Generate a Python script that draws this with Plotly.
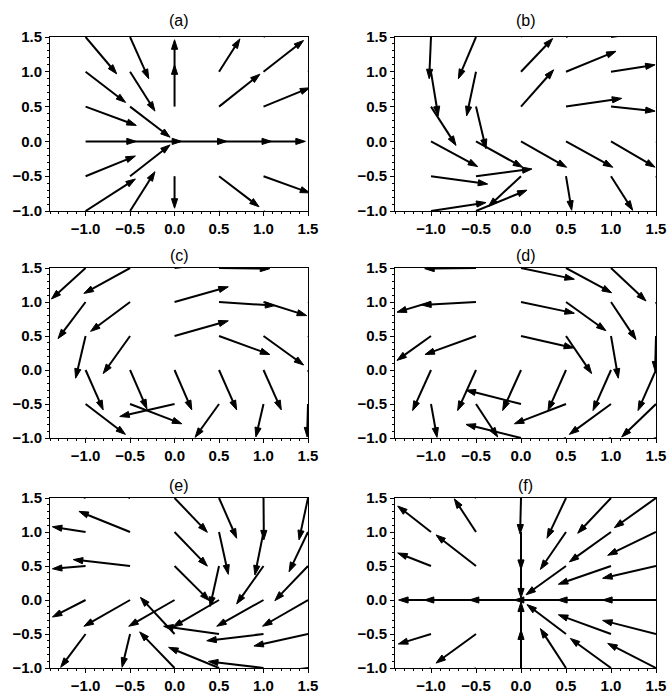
import plotly.graph_objects as go

# arrow tails sit on this grid; every U/V table is listed row by row, top (y=1.5) to bottom (y=-1)
grid_x = [-1.0, -0.5, 0.0, 0.5, 1.0, 1.5]
grid_y = [1.5, 1.0, 0.5, 0.0, -0.5, -1.0]

panel_names = ["(a)", "(b)", "(c)", "(d)", "(e)", "(f)"]
tick_vals = [-1.0, -0.5, 0.0, 0.5, 1.0, 1.5]

u_a = [[0.35, 0.21, 0.0, 0.2, 0.42, 0.5],
       [0.45, 0.28, 0.0, 0.235, 0.45, 0.5],
       [0.57, 0.45, 0.0, 0.46, 0.52, 0.55],
       [0.57, 0.58, 0.59, 0.59, 0.47, 0.6],
       [0.56, 0.45, 0.0, 0.45, 0.52, 0.55],
       [0.56, 0.28, 0.0, 0.24, 0.42, 0.5]]
v_a = [[-0.53, -0.6, 0.6, 0.57, 0.42, 0.5],
       [-0.44, -0.565, 0.46, 0.473, 0.45, 0.33],
       [-0.27, -0.44, 0.6, 0.466, 0.27, 0.18],
       [0.0, 0.0, 0.0, 0.0, 0.0, 0.0],
       [0.29, 0.45, -0.46, -0.44, -0.24, -0.18],
       [0.46, 0.565, -0.6, -0.57, -0.42, -0.33]]

u_b = [[-0.02, -0.196, 0.3, 0.5, 0.55, 0.55],
       [0.08, -0.104, 0.352, 0.556, 0.49, 0.5],
       [0.278, 0.111, 0.363, 0.619, 0.49, 0.5],
       [0.519, 0.519, 0.507, 0.52, 0.49, 0.5],
       [0.63, 0.622, -0.363, 0.063, 0.241, 0.3],
       [0.611, 0.567, -0.3, 0.1, 0.2, 0.3]]
v_b = [[-0.6, -0.6, 0.5, 0.3, 0.1, -0.05],
       [-0.633, -0.633, 0.478, 0.295, 0.1, 0.0],
       [-0.558, -0.606, 0.529, 0.118, -0.065, -0.2],
       [-0.362, -0.372, -0.372, -0.372, -0.37, -0.37],
       [-0.113, 0.104, -0.437, -0.49, -0.49, -0.5],
       [0.121, 0.3, -0.5, -0.5, -0.5, -0.5]]

u_c = [[-0.384, -0.519, 0.6, 0.57, 0.5, 0.3],
       [-0.31, -0.444, 0.604, 0.627, 0.485, 0.5],
       [-0.112, -0.302, 0.604, 0.571, 0.451, 0.4],
       [0.198, 0.19, 0.194, 0.198, 0.2, 0.2],
       [0.448, 0.582, -0.616, -0.269, -0.086, -0.01],
       [0.3, 0.4, 0.2, 0.0, 0.0, 0.0]]
v_c = [[-0.456, -0.374, 0.1, -0.01, 0.1, 0.5],
       [-0.539, -0.432, 0.223, -0.053, -0.2, -0.3],
       [-0.621, -0.553, 0.223, -0.272, -0.427, -0.4],
       [-0.587, -0.573, -0.587, -0.587, -0.587, -0.587],
       [-0.447, -0.291, -0.184, -0.49, -0.485, -0.485],
       [-0.5, -0.5, -0.6, -0.6, -0.6, -0.6]]

u_d = [[-0.4, -0.57, 0.593, 0.507, 0.389, 0.3],
       [-0.378, -0.604, 0.593, 0.444, 0.278, 0.2],
       [-0.378, -0.567, 0.585, 0.285, 0.081, -0.01],
       [-0.204, -0.204, -0.204, -0.2, -0.2, -0.2],
       [0.067, 0.241, -0.611, -0.574, -0.463, -0.381],
       [0.1, 0.1, -0.611, -0.6, -0.6, -0.6]]
v_d = [[0.2, -0.01, -0.165, -0.364, -0.485, -0.5],
       [-0.15, -0.044, -0.165, -0.422, -0.553, -0.6],
       [-0.359, -0.272, -0.175, -0.553, -0.621, -0.515],
       [-0.597, -0.597, -0.597, -0.597, -0.597, -0.597],
       [-0.49, -0.485, 0.204, -0.291, -0.447, -0.485],
       [-0.5, -0.5, 0.2, -0.3, -0.3, -0.3]]

u_e = [[-0.5, -0.5, 0.369, 0.198, 0.004, -0.101],
       [-0.373, -0.575, 0.369, 0.104, -0.097, -0.213],
       [-0.373, -0.638, 0.392, -0.101, -0.302, -0.373],
       [-0.373, -0.519, -0.515, -0.519, -0.526, -0.511],
       [-0.28, -0.09, -0.384, -0.623, -0.638, -0.608],
       [-0.2, -0.2, -0.392, -0.567, -0.619, -0.6]]
v_e = [[0.3, 0.3, -0.505, -0.592, -0.616, -0.616],
       [0.077, 0.304, -0.502, -0.623, -0.633, -0.585],
       [-0.041, 0.094, -0.51, -0.597, -0.558, -0.51],
       [-0.251, -0.386, -0.386, -0.396, -0.386, -0.386],
       [-0.49, -0.49, 0.539, 0.114, -0.099, -0.176],
       [-0.5, -0.5, 0.531, 0.304, 0.097, -0.1]]

u_f = [[-0.35, -0.35, -0.01, -0.211, -0.37, -0.463],
       [-0.37, -0.241, 0.0, -0.285, -0.463, -0.537],
       [-0.37, -0.444, 0.0, -0.444, -0.585, -0.593],
       [-0.36, -0.574, -0.574, -0.574, -0.593, -0.593],
       [-0.363, -0.444, 0.0, -0.433, -0.585, -0.593],
       [-0.4, -0.4, 0.0, -0.285, -0.452, -0.537]]
v_f = [[0.4, 0.4, -0.53, -0.592, -0.519, -0.437],
       [0.382, 0.488, -0.55, -0.551, -0.44, -0.343],
       [0.191, 0.457, -0.47, -0.423, -0.268, -0.181],
       [0.0, 0.0, 0.0, 0.0, 0.0, 0.0],
       [-0.147, -0.428, 0.47, 0.432, 0.283, 0.2],
       [-0.3, -0.3, 0.56, 0.58, 0.435, 0.362]]

fields = [(u_a, v_a), (u_b, v_b), (u_c, v_c), (u_d, v_d), (u_e, v_e), (u_f, v_f)]

W, H = 668, 696


def px_x(p):
    return p / W


def px_y(p):
    return 1 - p / H


col_dom = [[px_x(50), px_x(308)], [px_x(395), px_x(656)]]
row_dom = [[px_y(211), px_y(37)], [px_y(438), px_y(268)], [px_y(668), px_y(498)]]
title_y = [px_y(21), px_y(255), px_y(485)]

fig = go.Figure()
layout = dict(
    template="none",
    width=W, height=H,
    margin=dict(l=0, r=0, t=0, b=0),
    paper_bgcolor="white", plot_bgcolor="white",
    showlegend=False,
    font=dict(family="Liberation Sans, Arial, sans-serif", size=15, color="black",
              weight="bold"),
    annotations=[],
)

for k, (U, V) in enumerate(fields):
    r, c = k // 2, k % 2
    n = "" if k == 0 else str(k + 1)
    xs, ys, sizes = [], [], []
    for i, gy in enumerate(grid_y):
        for j, gx in enumerate(grid_x):
            xs += [gx, gx + U[i][j], None]
            ys += [gy, gy + V[i][j], None]
            sizes += [0, 10, 0]
    fig.add_trace(go.Scatter(
        x=xs, y=ys, mode="lines+markers",
        line=dict(color="black", width=2),
        marker=dict(symbol="arrow", size=sizes, angleref="previous", color="black",
                    opacity=1, line=dict(width=1, color="black")),
        xaxis="x" + n, yaxis="y" + n, hoverinfo="skip",
    ))
    axis_common = dict(
        automargin=False,
        showline=True, linecolor="black", linewidth=1, mirror=True,
        showgrid=False, zeroline=False,
        ticks="outside", ticklen=4, tickwidth=1, tickcolor="black",
        tickvals=tick_vals, tickformat=".1f",
        minor=dict(dtick=0.1, tick0=0, ticks="outside", ticklen=2, tickcolor="black"),
    )
    layout["xaxis" + n] = dict(axis_common, domain=col_dom[c], range=[-1.4, 1.5],
                               anchor="y" + n)
    layout["yaxis" + n] = dict(axis_common, domain=row_dom[r], range=[-1.0, 1.5],
                               anchor="x" + n)
    layout["annotations"].append(dict(
        text=panel_names[k], xref="paper", yref="paper",
        x=sum(col_dom[c]) / 2, y=title_y[r], xanchor="center", yanchor="middle",
        showarrow=False, font=dict(size=16, weight="normal"),
    ))

fig.update_layout(**layout)
# drop the default 8px page margin so the 668x696 figure fills the window exactly
fig.write_html("out.html", config={"displayModeBar": False},
               post_script="document.body.style.margin='0px';")
